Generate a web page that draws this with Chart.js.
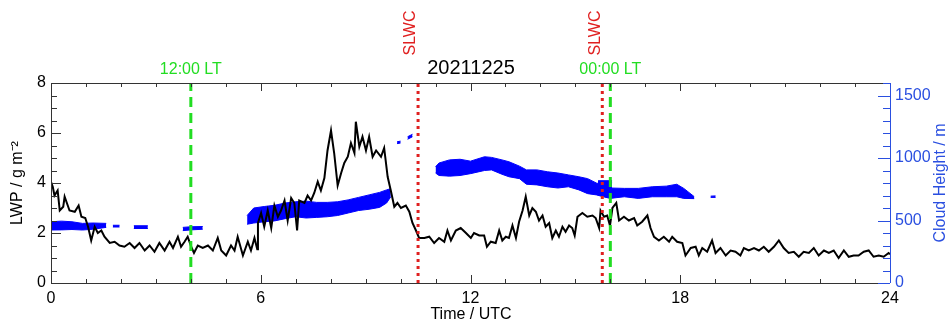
<!DOCTYPE html>
<html lang="en">
<head>
<meta charset="UTF-8">
<title>LWP and cloud height 20211225</title>
<script src="https://cdn.jsdelivr.net/npm/chart.js"></script>
<style>
  html, body { margin: 0; padding: 0; background: #fff; }
  #wrap { width: 950px; height: 323px; position: relative; }
</style>
</head>
<body>
<div id="wrap"><canvas id="lwpChart"></canvas></div>
<script>
// LWP time series (hours UTC, g m-2)
const lwpTime = [0.00,0.05,0.10,0.19,0.25,0.35,0.39,0.53,0.68,0.79,0.87,0.98,1.06,1.15,1.25,1.34,1.44,1.53,1.68,1.82,
  1.96,2.10,2.25,2.39,2.53,2.68,2.82,2.96,3.10,3.25,3.39,3.49,3.63,3.72,3.82,3.91,4.01,4.09,4.20,4.34,
  4.49,4.63,4.77,4.87,5.01,5.15,5.25,5.34,5.49,5.63,5.72,5.82,5.90,5.92,6.01,6.10,6.20,6.30,6.39,6.49,
  6.58,6.68,6.77,6.87,6.96,7.04,7.10,7.25,7.34,7.44,7.53,7.63,7.72,7.82,7.91,8.01,8.10,8.20,8.30,8.39,
  8.49,8.58,8.68,8.72,8.82,8.91,9.01,9.10,9.20,9.30,9.44,9.53,9.63,9.72,9.82,9.91,10.01,10.15,10.25,10.34,
  10.44,10.53,10.68,10.82,10.96,11.10,11.25,11.34,11.44,11.58,11.72,11.87,12.01,12.10,12.25,12.39,12.47,12.58,12.72,12.82,
  12.91,13.01,13.10,13.20,13.30,13.39,13.49,13.58,13.68,13.77,13.87,13.96,14.06,14.15,14.25,14.34,14.44,14.53,14.63,14.72,
  14.82,14.91,14.98,15.06,15.20,15.34,15.49,15.58,15.68,15.72,15.82,15.91,15.99,16.06,16.17,16.25,16.39,16.53,16.68,16.77,
  16.91,17.06,17.15,17.25,17.39,17.53,17.68,17.77,17.91,18.06,18.15,18.30,18.44,18.53,18.63,18.77,18.91,19.01,19.15,19.30,
  19.44,19.58,19.72,19.82,19.96,20.11,20.25,20.39,20.53,20.68,20.82,20.96,21.10,21.25,21.39,21.53,21.68,21.82,21.96,22.11,
  22.25,22.39,22.53,22.68,22.82,22.96,23.10,23.25,23.39,23.53,23.68,23.82,23.96,24.00];
const lwpValue = [4.05,3.85,3.5,3.7,2.9,3.05,3.45,2.9,2.85,3.1,2.65,2.6,2.25,1.7,2.25,2.0,2.1,1.85,1.6,1.65,
  1.5,1.45,1.6,1.4,1.6,1.3,1.5,1.25,1.6,1.3,1.65,1.4,1.85,1.45,1.65,1.85,1.45,1.2,1.5,1.4,
  1.5,1.3,1.8,1.3,1.1,1.5,1.3,1.85,1.1,1.65,1.3,1.8,1.35,2.4,2.8,2.25,2.9,2.2,3.1,2.65,
  2.9,3.3,2.5,3.4,3.2,2.1,3.3,3.2,3.5,3.3,3.6,4.05,3.7,4.2,5.3,6.1,5.2,3.9,4.4,4.8,
  5.05,5.6,5.2,6.45,5.45,5.85,5.3,5.85,5.05,5.3,5.05,5.4,4.25,3.7,3.05,3.2,3.0,3.1,2.85,2.4,
  2.1,1.8,1.8,1.85,1.6,1.8,1.65,2.1,1.7,2.1,2.2,2.0,1.8,2.0,1.9,1.9,1.45,1.65,1.6,2.1,
  1.7,1.85,1.8,2.3,1.8,2.45,2.9,3.45,2.7,3.0,2.85,2.5,2.7,2.25,2.4,1.8,2.1,1.85,2.25,2.05,
  2.3,2.2,1.9,2.65,2.8,2.65,2.7,2.6,2.2,2.9,2.65,2.7,2.3,3.0,3.2,2.5,2.65,2.5,2.6,2.3,
  2.45,2.7,2.2,1.85,1.7,1.85,1.65,1.85,1.65,1.6,1.1,1.4,1.45,1.1,1.4,1.25,1.7,1.2,1.4,1.1,
  1.3,1.25,1.1,1.4,1.3,1.4,1.3,1.45,1.25,1.45,1.7,1.4,1.2,1.25,1.05,1.25,1.2,1.4,1.1,1.3,
  1.2,1.3,1.0,1.3,1.05,1.1,1.1,1.25,1.3,1.05,1.1,1.05,1.2,1.15];

// cloud layer (hours UTC, base / top in m); null splits separate patches
const cloudTime = [0.00,0.30,0.60,0.90,1.20,1.58, 1.7, 1.77,1.96, 2.2, 2.37,2.77, 3.3, 3.77,4.00,4.34, 5.0,
  5.61,5.80,6.10,6.40,6.70,7.00,7.30,7.60,7.90,8.20,8.50,8.80,9.10,9.40,9.60,9.72, 9.8,
  9.90,10.00, 10.1, 10.20,10.34, 10.6,
  11.00,11.10,11.40,11.70,12.00,12.40,12.60,12.90,13.10,13.40,13.60,13.90,14.20,14.50,14.80,15.10,15.35,15.60,15.80,
  16.00,16.40,16.80,17.20,17.60,17.90,18.10,18.40, 18.6, 18.87,19.01, 19.2, 15.65,16.05];
const cloudBase = [424,425,428,424,430,445, null, 448,448, null, 436,436, null, 419,425,430, null,
  470,480,490,497,515,530,520,525,530,540,560,580,590,605,640,690, null,
  1115,1120, null, 1150,1170, null,
  880,860,855,860,875,900,905,870,850,835,790,785,770,760,770,745,715,705,690,
  677,690,677,690,690,690,677,675, null, 685,685, null, 802,802];
const cloudTop = [490,495,490,477,480,477, null, 462,462, null, 458,458, null, 445,450,452, null,
  540,600,612,622,640,650,655,645,645,650,665,685,705,725,745,755, null,
  1130,1135, null, 1170,1190, null,
  930,960,985,990,975,1010,1005,985,970,935,905,905,890,880,865,850,835,800,785,
  760,757,757,770,775,790,757,691, null, 695,697, null, 818,818];

// marker lines
const ltTimes = [4, 16];
const ltLabels = ['12:00 LT', '00:00 LT'];
const slwcTimes = [10.5, 15.77];
const slwcLabel = 'SLWC';

const xTicks = [0, 6, 12, 18, 24];
const lwpTicks = [0, 2, 4, 6, 8];
const heightTicks = [0, 500, 1000, 1500];

const dateTitle = '20211225';
const xTitle = 'Time / UTC';
const yTitle = 'LWP / g m\u207B\u00B2';
const y2Title = 'Cloud Height / m';

const FONT = "'Liberation Sans', Arial, Helvetica, sans-serif";
const BLUE = '#0000ff';
const AXBLUE = '#2a4fe0';
const GREEN = '#22dd22';
const RED = '#e02020';

const lwpData = lwpTime.map((t, i) => ({ x: t, y: lwpValue[i] }));
const baseData = cloudTime.map((t, i) => ({ x: t, y: cloudBase[i] }));
const topData = cloudTime.map((t, i) => ({ x: t, y: cloudTop[i] }));

const markerSets = [];
ltTimes.forEach(t => markerSets.push({
  data: [{ x: t, y: 0 }, { x: t, y: 8 }], yAxisID: 'y', order: 0,
  borderColor: GREEN, borderWidth: 3, borderDash: [10, 6], pointRadius: 0, fill: false
}));
slwcTimes.forEach(t => markerSets.push({
  data: [{ x: t, y: 0 }, { x: t, y: 8 }], yAxisID: 'y', order: 0,
  borderColor: RED, borderWidth: 3, borderDash: [3, 4], pointRadius: 0, fill: false
}));

// IDL-like inward ticks, frame and text
const frame = {
  id: 'frame',
  afterDraw(chart) {
    const c = chart.ctx, a = chart.chartArea;
    const sx = chart.scales.x, sy = chart.scales.y, sy2 = chart.scales.y2;
    c.save();
    c.lineWidth = 1;
    c.strokeStyle = '#333';
    c.beginPath();
    c.moveTo(a.right, a.top + 0.5); c.lineTo(a.left + 0.5, a.top + 0.5); c.lineTo(a.left + 0.5, a.bottom + 0.5); c.lineTo(a.right, a.bottom + 0.5);
    for (let h = 0; h <= 24; h++) {
      const x = Math.round(sx.getPixelForValue(h)) + 0.5;
      const len = h % 6 === 0 ? 8 : 4;
      c.moveTo(x, a.bottom); c.lineTo(x, a.bottom - len);
      c.moveTo(x, a.top); c.lineTo(x, a.top + len);
    }
    for (let v = 0; v <= 8; v += 0.5) {
      const y = Math.round(sy.getPixelForValue(v)) + 0.5;
      const len = v % 2 === 0 ? 10 : 6;
      c.moveTo(a.left, y); c.lineTo(a.left + len, y);
    }
    c.stroke();
    c.strokeStyle = AXBLUE;
    c.beginPath();
    c.moveTo(a.right + 0.5, a.top); c.lineTo(a.right + 0.5, a.bottom);
    for (let v = 0; v <= 1600; v += 100) {
      const y = Math.round(sy2.getPixelForValue(v)) + 0.5;
      const len = v % 500 === 0 ? 12 : 7;
      c.moveTo(a.right, y); c.lineTo(a.right - len, y);
    }
    c.stroke();

    c.textAlign = 'center';
    c.textBaseline = 'middle';
    c.fillStyle = '#000';
    c.font = '20px ' + FONT;
    c.fillText(dateTitle, 471, 68);
    c.font = '16px ' + FONT;
    c.fillText(xTitle, 471, 315);
    c.fillStyle = GREEN;
    ltTimes.forEach((t, i) => c.fillText(ltLabels[i], sx.getPixelForValue(t), 70));
    c.fillStyle = RED;
    slwcTimes.forEach(t => {
      c.save();
      c.translate(sx.getPixelForValue(t) - 7, 33);
      c.rotate(-Math.PI / 2);
      c.fillText(slwcLabel, 0, 0);
      c.restore();
    });
    c.save();
    c.fillStyle = '#000';
    c.translate(18, 183);
    c.rotate(-Math.PI / 2);
    c.fillText(yTitle, 0, 0);
    c.restore();
    c.save();
    c.fillStyle = AXBLUE;
    c.translate(941, 183);
    c.rotate(-Math.PI / 2);
    c.fillText(y2Title, 0, 0);
    c.restore();
    c.restore();
  }
};

const noGrid = { display: false, drawTicks: false, tickLength: 0 };

new Chart(document.getElementById('lwpChart'), {
  type: 'line',
  data: {
    datasets: [
      ...markerSets,
      { data: lwpData, yAxisID: 'y', order: 1, borderColor: '#000', borderWidth: 2, pointRadius: 0, fill: false, tension: 0 },
      { data: baseData, yAxisID: 'y2', order: 2, borderColor: BLUE, borderWidth: 1, pointRadius: 0, fill: false, spanGaps: false },
      { data: topData, yAxisID: 'y2', order: 2, borderColor: BLUE, borderWidth: 1, pointRadius: 0, fill: '-1', backgroundColor: BLUE, spanGaps: false }
    ]
  },
  options: {
    responsive: true,
    maintainAspectRatio: false,
    animation: false,
    events: [],
    layout: { padding: { top: 83, left: 0, right: 0, bottom: 0 } },
    plugins: { legend: { display: false }, tooltip: { enabled: false } },
    scales: {
      x: {
        type: 'linear', min: 0, max: 24,
        afterFit: s => { s.height = 40; },
        afterBuildTicks: s => { s.ticks = xTicks.map(v => ({ value: v })); },
        grid: noGrid, border: { display: false },
        ticks: { color: '#000', font: { size: 16, family: FONT }, padding: 6, maxRotation: 0,
          callback: v => String(v) }
      },
      y: {
        position: 'left', min: 0, max: 8,
        afterFit: s => { s.width = 51; },
        afterBuildTicks: s => { s.ticks = lwpTicks.map(v => ({ value: v })); },
        grid: noGrid, border: { display: false },
        ticks: { color: '#000', font: { size: 16, family: FONT }, padding: 5,
          callback: v => String(v) }
      },
      y2: {
        position: 'right', min: 0, max: 1600,
        afterFit: s => { s.width = 60; },
        afterBuildTicks: s => { s.ticks = heightTicks.map(v => ({ value: v })); },
        grid: noGrid, border: { display: false },
        ticks: { color: AXBLUE, font: { size: 16, family: FONT }, padding: 5,
          callback: v => String(v) }
      }
    }
  },
  plugins: [frame]
});
</script>
</body>
</html>
